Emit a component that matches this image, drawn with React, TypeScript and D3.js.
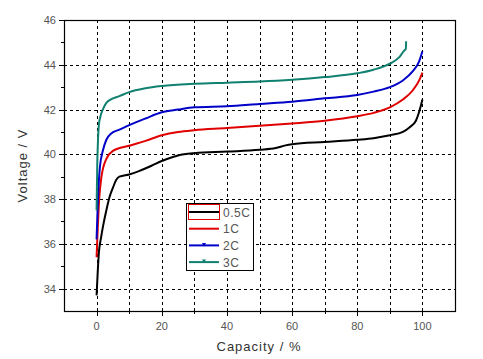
import React, { useEffect, useRef } from 'react';
import * as d3 from 'd3';

type Pt = [number, number];

// capacity (%) vs voltage (V)
const curve05C: Pt[] = [
    [0, 33.7], [0.3, 34.6], [0.7, 35.6], [1.4, 36.3], [2, 36.8], [3, 37.5], [4, 38.1], [5, 38.5],
    [6, 38.85], [7, 39.0], [10, 39.1], [13, 39.25], [17, 39.5], [20, 39.7], [25, 39.95], [30, 40.05],
    [40, 40.12], [50, 40.2], [55, 40.28], [58, 40.4], [60, 40.45], [70, 40.55], [80, 40.65], [85, 40.72],
    [90, 40.85], [94, 41.0], [96, 41.2], [98, 41.5], [99, 41.9], [100, 42.45],
];
const curve1C: Pt[] = [
    [0, 35.4], [0.3, 36.5], [0.8, 38], [1.5, 39], [3, 39.8], [5, 40.15], [10, 40.38], [15, 40.6],
    [20, 40.85], [25, 41.0], [30, 41.08], [40, 41.17], [50, 41.28], [60, 41.38], [70, 41.5], [80, 41.7],
    [85, 41.85], [90, 42.1], [94, 42.45], [97, 42.85], [99, 43.3], [100, 43.65],
];
const curve2C: Pt[] = [
    [0, 36.2], [0.3, 37.5], [0.7, 38.8], [1, 39.4], [2, 40.2], [3, 40.65], [4.5, 40.93], [7, 41.1],
    [10, 41.3], [15, 41.6], [20, 41.88], [25, 42.0], [30, 42.1], [40, 42.15], [50, 42.25], [60, 42.35],
    [70, 42.5], [80, 42.65], [85, 42.8], [90, 43.0], [94, 43.3], [97, 43.7], [99, 44.15], [100, 44.6],
];
const curve3C: Pt[] = [
    [0, 37.5], [0.2, 39.5], [0.4, 40.5], [0.7, 41.3], [1.2, 41.7], [1.9, 42.0], [3, 42.3], [4, 42.42],
    [7, 42.6], [10, 42.78], [15, 42.95], [20, 43.05], [30, 43.15], [40, 43.2], [50, 43.25], [60, 43.33],
    [70, 43.45], [80, 43.62], [85, 43.78], [90, 44.05], [93, 44.35], [94.5, 44.65], [94.9, 44.7], [95, 45.05],
];

const seriesNames = ['0.5C', '1C', '2C', '3C'];
const seriesColors = ['#000000', '#e00000', '#0000c8', '#108070'];
const seriesData = [curve05C, curve1C, curve2C, curve3C];

const xTicks = [0, 20, 40, 60, 80, 100];
const xGrid = [0, 10, 20, 30, 40, 50, 60, 70, 80, 90, 100];
const yTicks = [34, 36, 38, 40, 42, 44, 46];
const yMinor = [35, 37, 39, 41, 43, 45];

const App = () => {
    const svgRef = useRef<SVGSVGElement | null>(null);
    const width = 483;
    const height = 359;

    useEffect(() => {
        if (!svgRef.current) return;
        const svg = d3.select(svgRef.current);
        svg.selectAll('*').remove();

        const left = 64, right = 455, top = 20, bottom = 311;
        const x = d3.scaleLinear().domain([-10, 110]).range([left, right]);
        const y = d3.scaleLinear().domain([33, 46]).range([bottom, top]);
        const font = '"Liberation Sans", Arial, sans-serif';
        const tickGray = '#555';
        const titleGray = '#333';

        // dashed grid
        const grid = svg.append('g').attr('stroke', '#000').attr('stroke-dasharray', '3,3').attr('stroke-width', 1);
        grid.selectAll('line.v').data(xGrid).enter().append('line')
            .attr('x1', (d) => Math.round(x(d)) + 0.5).attr('x2', (d) => Math.round(x(d)) + 0.5)
            .attr('y1', top).attr('y2', bottom);
        grid.selectAll('line.h').data(yTicks.filter((d) => d < 46)).enter().append('line')
            .attr('y1', (d) => Math.round(y(d)) + 0.5).attr('y2', (d) => Math.round(y(d)) + 0.5)
            .attr('x1', left).attr('x2', right);

        // frame
        svg.append('rect').attr('x', left + 0.5).attr('y', top + 0.5)
            .attr('width', right - left).attr('height', bottom - top)
            .attr('fill', 'none').attr('stroke', '#000').attr('stroke-width', 1.2);

        // ticks
        const ticks = svg.append('g').attr('stroke', '#000');
        ticks.selectAll('line.xt').data(xGrid).enter().append('line')
            .attr('x1', (d) => Math.round(x(d)) + 0.5).attr('x2', (d) => Math.round(x(d)) + 0.5)
            .attr('y1', bottom).attr('y2', (d) => bottom + (d % 20 === 0 ? 5 : 3));
        ticks.selectAll('line.yt').data([...yTicks, ...yMinor]).enter().append('line')
            .attr('y1', (d) => Math.round(y(d)) + 0.5).attr('y2', (d) => Math.round(y(d)) + 0.5)
            .attr('x1', left).attr('x2', (d) => left - (d % 2 === 0 ? 5 : 3));

        // tick labels
        svg.append('g').selectAll('text').data(xTicks).enter().append('text')
            .attr('x', (d) => x(d)).attr('y', bottom + 19)
            .attr('text-anchor', 'middle').attr('font-family', font).attr('font-size', 11).attr('fill', tickGray)
            .text((d) => d);
        svg.append('g').selectAll('text').data(yTicks).enter().append('text')
            .attr('x', left - 8).attr('y', (d) => y(d) + 4)
            .attr('text-anchor', 'end').attr('font-family', font).attr('font-size', 11).attr('fill', tickGray)
            .text((d) => d);

        // axis titles
        svg.append('text').attr('x', 259).attr('y', 351)
            .attr('text-anchor', 'middle').attr('font-family', font).attr('font-size', 13)
            .attr('letter-spacing', 1).attr('fill', titleGray).text('Capacity / %');
        svg.append('text').attr('transform', `translate(27,${(top + bottom) / 2}) rotate(-90)`)
            .attr('text-anchor', 'middle').attr('font-family', font).attr('font-size', 13)
            .attr('letter-spacing', 1).attr('fill', titleGray).text('Voltage / V');

        // curves
        const line = d3.line<Pt>().x((d) => x(d[0])).y((d) => y(d[1])).curve(d3.curveMonotoneX);
        svg.append('g').selectAll('path').data(seriesData).enter().append('path')
            .attr('d', (d) => line(d))
            .attr('fill', 'none')
            .attr('stroke', (_d, i) => seriesColors[i])
            .attr('stroke-width', 2);

        // legend
        const lg = svg.append('g');
        lg.append('rect').attr('x', 186.5).attr('y', 203.5).attr('width', 67).attr('height', 67)
            .attr('fill', '#fff').attr('stroke', '#000');
        const rowY = (i: number) => 212 + i * 16.7;
        lg.append('rect').attr('x', 188.5).attr('y', 204.5).attr('width', 31).attr('height', 15)
            .attr('fill', 'none').attr('stroke', '#e00000');
        seriesNames.forEach((name, i) => {
            lg.append('line').attr('x1', 189).attr('x2', 219).attr('y1', rowY(i)).attr('y2', rowY(i))
                .attr('stroke', seriesColors[i]).attr('stroke-width', 2);
            if (i >= 2) {
                lg.append('path')
                    .attr('d', `M${202},${rowY(i) - 2.5}L${206},${rowY(i) - 2.5}L${204},${rowY(i) + 1}Z`)
                    .attr('fill', seriesColors[i]);
            }
            lg.append('text').attr('x', 223).attr('y', rowY(i) + 4.5)
                .attr('font-family', font).attr('font-size', 12).attr('letter-spacing', 0.5).attr('fill', tickGray)
                .text(name);
        });
    }, []);

    return (
        <svg ref={svgRef} width={width} height={height}
            style={{ position: 'absolute', left: 0, top: 0, background: '#fff' }}></svg>
    );
};

export default App;
